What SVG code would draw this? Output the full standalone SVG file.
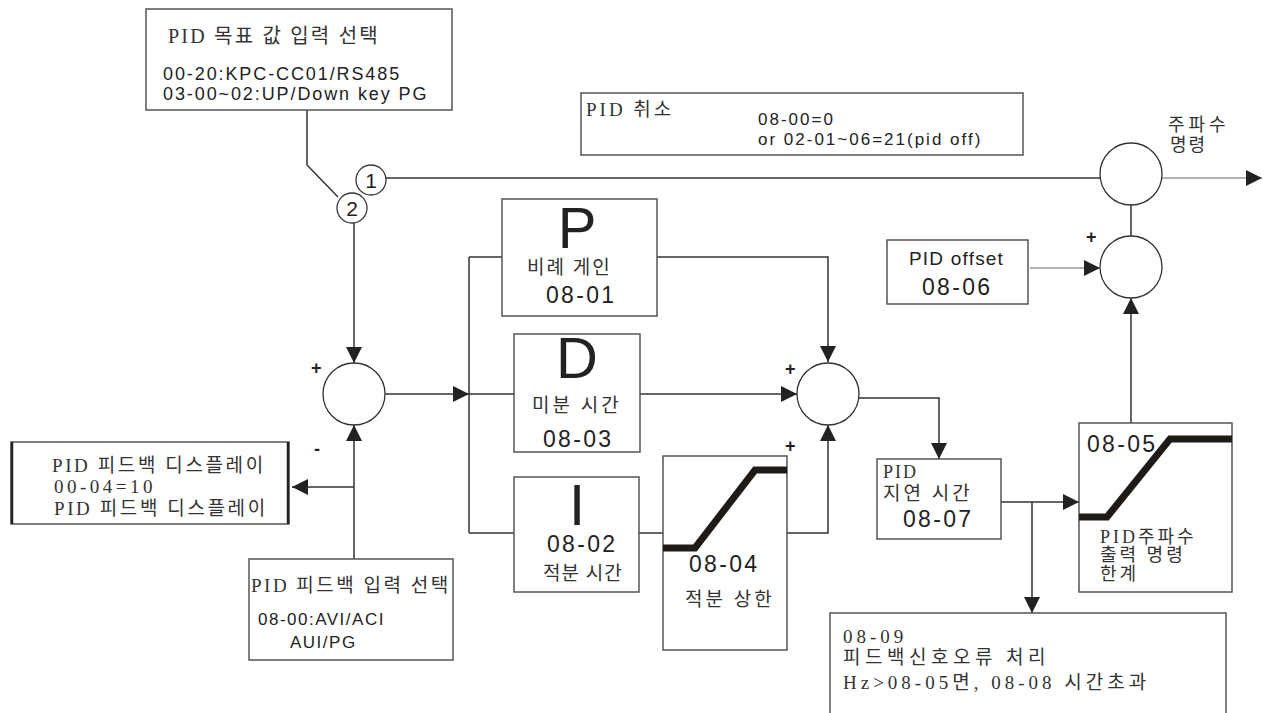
<svg xmlns="http://www.w3.org/2000/svg" width="1271" height="713" viewBox="0 0 1271 713">
<style>
.box{fill:#fff;stroke:#555;stroke-width:1.5}
.ln{fill:none;stroke:#333;stroke-width:1.5}
.lt{fill:none;stroke:#999;stroke-width:1.5}
.sum{fill:#fff;stroke:#333;stroke-width:1.3}
.thick{fill:none;stroke:#1e1a16;stroke-width:7}
.ks{font-family:"Liberation Serif","Noto Sans CJK KR",serif;fill:#333}
.sa{font-family:"Liberation Sans",Arial,sans-serif;fill:#222}
.num{font-family:"Liberation Sans",Arial,sans-serif;fill:#222;font-size:23px;letter-spacing:2.3px}
.big{font-family:"Liberation Sans",Arial,sans-serif;fill:#222;font-size:58px;text-anchor:middle}
.pm{font-family:"Liberation Sans",Arial,sans-serif;fill:#222;font-size:18px;font-weight:bold}
</style>
<defs>
<marker id="ah" viewBox="0 0 10 10" refX="10" refY="5" markerWidth="18" markerHeight="16" markerUnits="userSpaceOnUse" orient="auto">
<path d="M0,0 L10,5 L0,10 Z" fill="#222"/>
</marker>
</defs>

<g id="connectors">
<path class="ln" d="M307,110 V165 L338,197"/>
<path class="ln" d="M386,178 H1100"/>
<path class="lt" d="M1162,178 H1262" marker-end="url(#ah)"/>
<path class="ln" d="M1131,205 V236"/>
<path class="lt" d="M1030,268 H1100" marker-end="url(#ah)"/>
<path class="ln" d="M1131,423 V298" marker-end="url(#ah)"/>
<path class="ln" d="M354,223 V363" marker-end="url(#ah)"/>
<path class="ln" d="M385,394 H469" marker-end="url(#ah)"/>
<path class="ln" d="M469,257 V533"/>
<path class="ln" d="M469,257 H502"/>
<path class="ln" d="M469,394 H514"/>
<path class="ln" d="M469,533 H514"/>
<path class="ln" d="M657,257 H828 V362" marker-end="url(#ah)"/>
<path class="ln" d="M640,394 H797" marker-end="url(#ah)"/>
<path class="ln" d="M639,533 H663"/>
<path class="ln" d="M787,533 H828 V425" marker-end="url(#ah)"/>
<path class="ln" d="M859,398 H939 V459" marker-end="url(#ah)"/>
<path class="ln" d="M1001,502 H1079" marker-end="url(#ah)"/>
<path class="ln" d="M1032,502 V613" marker-end="url(#ah)"/>
<path class="ln" d="M354,559 V425" marker-end="url(#ah)"/>
<path class="ln" d="M354,487 H292" marker-end="url(#ah)"/>
</g>

<g id="target-select">
<rect class="box" x="146" y="9" width="306" height="101"/>
<text class="ks" x="168" y="43" font-size="20" letter-spacing="2.2">PID 목표 값 입력 선택</text>
<text class="sa" x="163" y="80" font-size="18" letter-spacing="1.9">00-20:KPC-CC01/RS485</text>
<text class="sa" x="163" y="100" font-size="18" letter-spacing="1.9">03-00~02:UP/Down key PG</text>
</g>

<g id="switch1">
<circle class="sum" cx="371" cy="180" r="15"/>
<text class="sa" x="371" y="188" font-size="21" text-anchor="middle">1</text>
</g>
<g id="switch2">
<circle class="sum" cx="352" cy="208" r="15"/>
<text class="sa" x="352" y="216" font-size="21" text-anchor="middle">2</text>
</g>

<g id="pid-cancel">
<rect class="box" x="581" y="93" width="442" height="62"/>
<text class="ks" x="586" y="116" font-size="19" letter-spacing="3">PID 취소</text>
<text class="sa" x="758" y="125" font-size="17" letter-spacing="2">08-00=0</text>
<text class="sa" x="758" y="145" font-size="17" letter-spacing="2">or  02-01~06=21(pid off)</text>
</g>

<g id="freq-cmd-sum">
<circle class="sum" cx="1131" cy="174" r="31"/>
<text class="ks" x="1168" y="131" font-size="18" letter-spacing="4">주파수</text>
<text class="ks" x="1170" y="151" font-size="18" letter-spacing="2">명령</text>
</g>

<g id="offset-sum">
<circle class="sum" cx="1131" cy="267" r="31"/>
<text class="pm" x="1086" y="243">+</text>
</g>

<g id="pid-offset">
<rect class="box" x="887" y="240" width="141" height="64"/>
<text class="sa" x="909" y="265" font-size="19" letter-spacing="1.2">PID offset</text>
<text class="num" x="922" y="295">08-06</text>
</g>

<g id="error-sum">
<circle class="sum" cx="354" cy="394" r="31"/>
<text class="pm" x="311" y="374">+</text>
<text class="pm" x="314" y="455">-</text>
</g>

<g id="p-box">
<rect class="box" x="502" y="199" width="155" height="117"/>
<text class="big" x="577" y="248">P</text>
<text class="ks" x="527" y="274" font-size="19" letter-spacing="2">비례 게인</text>
<text class="num" x="546" y="303">08-01</text>
</g>

<g id="d-box">
<rect class="box" x="514" y="334" width="126" height="118"/>
<text class="big" x="577" y="378">D</text>
<text class="ks" x="532" y="412" font-size="19" letter-spacing="3">미분 시간</text>
<text class="num" x="543" y="447">08-03</text>
</g>

<g id="i-box">
<rect class="box" x="514" y="477" width="125" height="115"/>
<text class="big" x="577" y="525">I</text>
<text class="num" x="547" y="552">08-02</text>
<text class="ks" x="543" y="580" font-size="19" letter-spacing="1">적분 시간</text>
</g>

<g id="integral-limit">
<rect class="box" x="663" y="456" width="124" height="194"/>
<path class="thick" d="M663,548 H695 L755,470 H787"/>
<text class="num" x="689" y="572">08-04</text>
<text class="ks" x="685" y="606" font-size="19" letter-spacing="3">적분 상한</text>
</g>

<g id="pid-sum">
<circle class="sum" cx="828" cy="394" r="31"/>
<text class="pm" x="785" y="375">+</text>
<text class="pm" x="785" y="452">+</text>
</g>

<g id="delay">
<rect class="box" x="877" y="459" width="124" height="80"/>
<text class="ks" x="883" y="478" font-size="18" letter-spacing="2">PID</text>
<text class="ks" x="883" y="500" font-size="19" letter-spacing="3">지연 시간</text>
<text class="num" x="903" y="527">08-07</text>
</g>

<g id="output-limit">
<rect class="box" x="1079" y="423" width="153" height="169"/>
<path class="thick" d="M1079,517 H1107 L1170,439 H1232"/>
<text class="num" x="1087" y="452">08-05</text>
<text class="ks" x="1100" y="543" font-size="18" letter-spacing="3">PID주파수</text>
<text class="ks" x="1100" y="561" font-size="18" letter-spacing="3">출력 명령</text>
<text class="ks" x="1100" y="580" font-size="18" letter-spacing="3">한계</text>
</g>

<g id="feedback-error">
<rect class="box" x="830" y="613" width="396" height="105"/>
<text class="ks" x="843" y="643" font-size="19" letter-spacing="4">08-09</text>
<text class="ks" x="843" y="664" font-size="19" letter-spacing="4.5">피드백신호오류 처리</text>
<text class="ks" x="843" y="689" font-size="19" letter-spacing="4">Hz&gt;08-05면, 08-08 시간초과</text>
</g>

<g id="feedback-display">
<rect class="box" x="11" y="442" width="278" height="82" stroke="#bbb"/>
<path d="M12,442 V524 M288,442 V524" stroke="#222" stroke-width="2.5"/>
<text class="ks" x="52" y="472" font-size="19" letter-spacing="2.6">PID 피드백 디스플레이</text>
<text class="ks" x="54" y="493" font-size="19" letter-spacing="3.5">00-04=10</text>
<text class="ks" x="54" y="515" font-size="19" letter-spacing="2.6">PID 피드백 디스플레이</text>
</g>

<g id="feedback-select">
<rect class="box" x="249" y="559" width="204" height="101"/>
<text class="ks" x="251" y="592" font-size="19" letter-spacing="2.5">PID 피드백 입력 선택</text>
<text class="sa" x="258" y="625" font-size="17" letter-spacing="1.5">08-00:AVI/ACI</text>
<text class="sa" x="290" y="648" font-size="17" letter-spacing="1.5">AUI/PG</text>
</g>
</svg>
